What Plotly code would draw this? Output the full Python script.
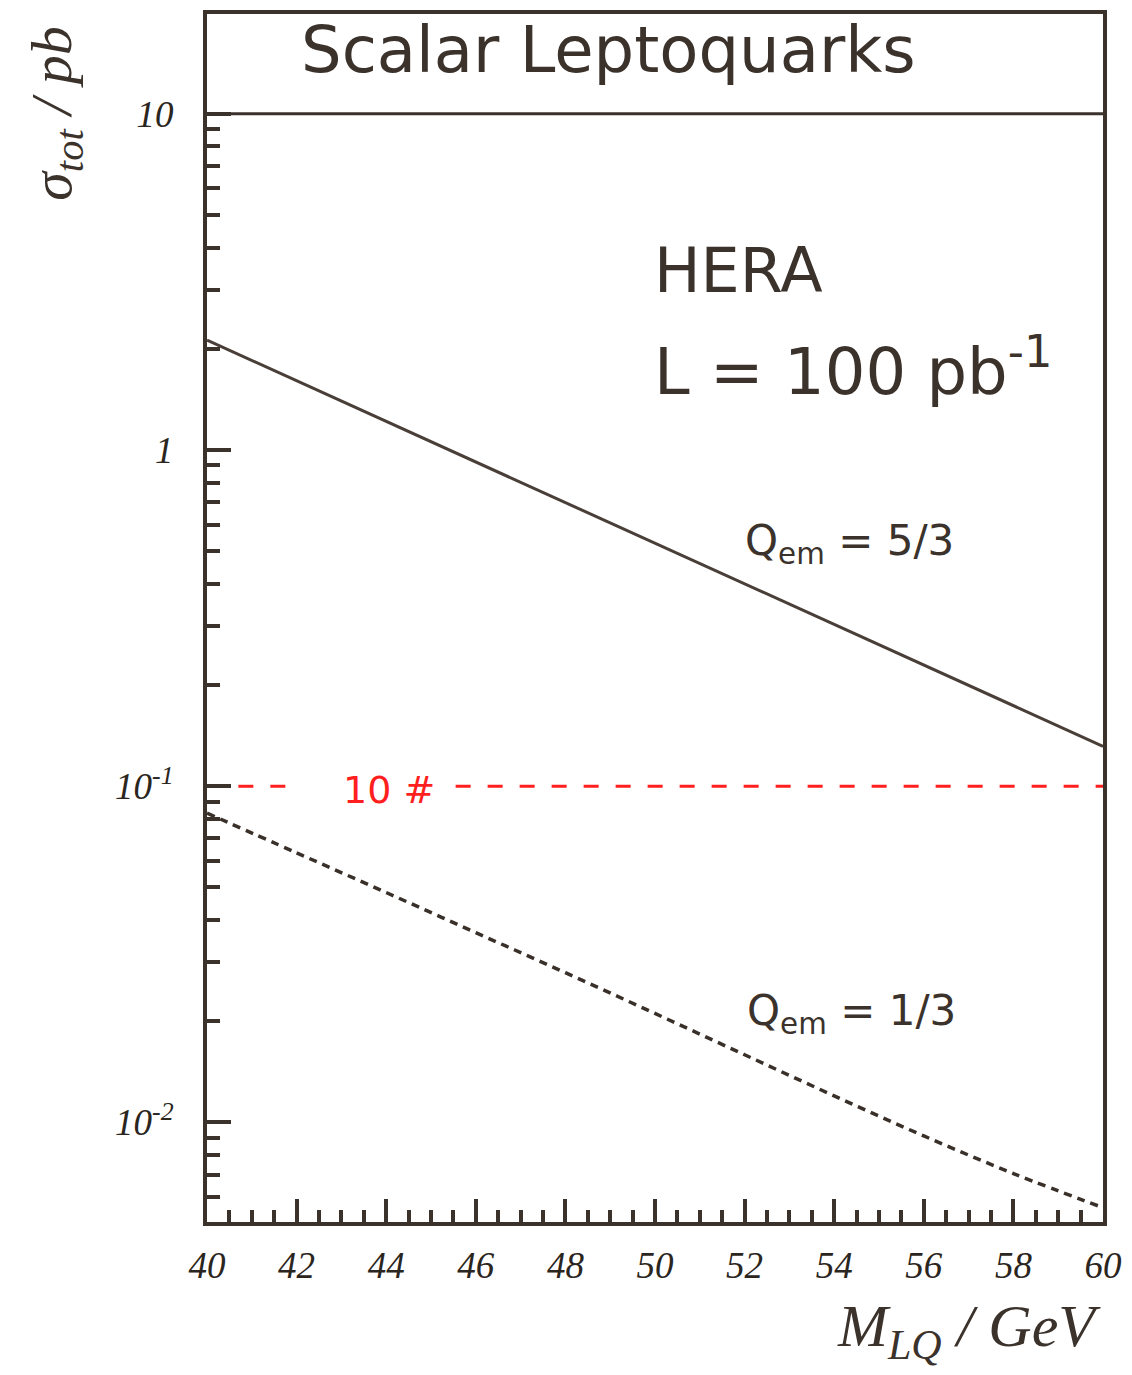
import plotly.graph_objects as go

# Data
mass_solid = [40, 42, 44, 46, 48, 50, 52, 54, 56, 58, 60]
sigma_q53 = [2.123, 1.608, 1.217, 0.922, 0.698, 0.528, 0.400, 0.303, 0.2294, 0.1737, 0.1315]

mass_dashed = [40, 42, 44, 46, 48, 50, 52, 54, 56, 58, 60]
sigma_q13 = [0.0832, 0.0634, 0.0483, 0.0367, 0.0279, 0.0211, 0.0159, 0.0120, 0.00912, 0.00705, 0.00558]

red_x1 = [40.7, 42.05]
red_x2 = [45.55, 60]
red_level = 0.1

x_major = [40, 42, 44, 46, 48, 50, 52, 54, 56, 58, 60]
x_minor = [40.5 + 0.5 * i for i in range(39)]
y_major = [0.01, 0.1, 1, 10]
y_major_text = ["<i>10<sup>-2</sup></i>", "<i>10<sup>-1</sup></i>", "<i>1</i>", "<i>10</i>"]
y_minor = [m * d for d in (0.001, 0.01, 0.1, 1) for m in range(2, 10)]
y_minor = [v for v in y_minor if 0.0051 < v < 9.5]

INK = "#3b322c"
RED = "#ff1f1f"

fig = go.Figure()
fig.add_trace(go.Scatter(x=mass_solid, y=sigma_q53, mode="lines",
                         line=dict(color="#4a3f38", width=3), hoverinfo="skip"))
fig.add_trace(go.Scatter(x=mass_dashed, y=sigma_q13, mode="lines", line_shape="spline",
                         line=dict(color="#3a302a", width=3.5, dash="8px,6px"), hoverinfo="skip"))
for xs in (red_x1, red_x2):
    fig.add_trace(go.Scatter(x=xs, y=[red_level, red_level], mode="lines",
                             line=dict(color=RED, width=3, dash="15px,17px"), hoverinfo="skip"))

fig.add_shape(type="line", xref="paper", x0=0, x1=1, yref="y", y0=10, y1=10,
              line=dict(color=INK, width=3))

sans = "'DejaVu Sans', sans-serif"
serif = "'Liberation Serif', 'DejaVu Serif', serif"

ann = [
    dict(text="Scalar Leptoquarks", x=0.448, y=0.970, xanchor="center", yanchor="middle",
         font=dict(family=sans, size=64, color=INK)),
    dict(text="HERA", x=0.497, y=0.788, xanchor="left", yanchor="middle",
         font=dict(family=sans, size=62, color=INK)),
    dict(text="L = 100 pb<sup>-1</sup>", x=0.497, y=0.708, xanchor="left", yanchor="middle",
         font=dict(family=sans, size=64, color=INK)),
    dict(text="Q<sub>em</sub> = 5/3", x=0.598, y=0.562, xanchor="left", yanchor="middle",
         font=dict(family=sans, size=42, color=INK)),
    dict(text="Q<sub>em</sub> = 1/3", x=0.601, y=0.173, xanchor="left", yanchor="middle",
         font=dict(family=sans, size=42, color=INK)),
    dict(text="10 #", x=0.203, y=0.358, xanchor="center", yanchor="middle",
         font=dict(family=sans, size=38, color=RED)),
    dict(text="<i>M<sub>LQ</sub> / GeV</i>", x=1.0, y=-0.09, xanchor="right", yanchor="middle",
         font=dict(family=serif, size=60, color=INK)),
    dict(text="<i>σ<sub>tot</sub> / pb</i>", x=-0.17, y=0.918, xanchor="center", yanchor="middle",
         textangle=-90, font=dict(family=serif, size=58, color=INK)),
]
for a in ann:
    a.update(xref="paper", yref="paper", showarrow=False)
    fig.add_annotation(**a)

fig.update_xaxes(range=[40, 60], tickvals=x_major, ticktext=[f"<i>{v}</i>" for v in x_major],
                 ticks="inside", ticklen=23, tickwidth=4, tickcolor=INK,
                 minor=dict(tickvals=x_minor, ticks="inside", ticklen=12, tickwidth=4, tickcolor=INK),
                 showline=True, linewidth=4, linecolor=INK, mirror=True, showgrid=False, zeroline=False,
                 ticklabelstandoff=8, tickfont=dict(family=serif, size=37, color="#2b2520"))
fig.update_yaxes(type="log", range=[-2.296, 1.297], tickvals=y_major, ticktext=y_major_text,
                 ticks="inside", ticklen=24, tickwidth=4, tickcolor=INK,
                 minor=dict(tickvals=y_minor, ticks="inside", ticklen=13, tickwidth=4, tickcolor=INK),
                 showline=True, linewidth=4, linecolor=INK, mirror=True, showgrid=False, zeroline=False,
                 ticklabelstandoff=22, tickfont=dict(family=serif, size=37, color="#2b2520"))

fig.update_layout(width=1132, height=1375, showlegend=False,
                  margin=dict(l=207, r=25, t=10, b=153),
                  paper_bgcolor="white", plot_bgcolor="white")

fig.write_html("out.html")
